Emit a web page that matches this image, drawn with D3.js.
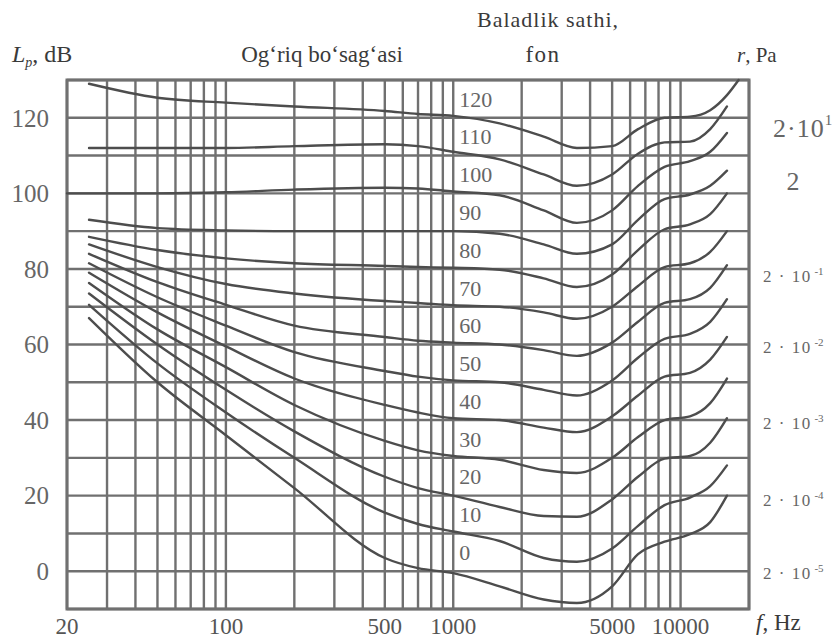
<!DOCTYPE html>
<html>
<head>
<meta charset="utf-8">
<script src="https://d3js.org/d3.v7.min.js"></script>
<style>
  html, body { margin: 0; padding: 0; background: #fff; }
</style>
</head>
<body>
<div id="chart"></div>
<script>
const freqs = [20, 25, 50, 100, 200, 500, 700, 1000, 1600, 2500, 3500, 5000, 6500, 8500, 11000, 13500, 16000, 18000];

// Loudness level of each contour (phon)
const phons = [0, 10, 20, 30, 40, 50, 60, 70, 80, 90, 100, 110, 120];

// Sound pressure level (dB) of each contour at the frequencies above
const contour0   = [null, 67, 50, 36, 22, 3.5, 0.8, -0.5, -4, -7.5, -8.4, -4, 4.5, 7.8, 9.8, 13, 20, null];
const contour10  = [null, 70.5, 55, 42, 30, 15.5, 12.5, 10.5, 8, 3.5, 2.5, 6, 12, 17.5, 19.5, 22.5, 28, null];
const contour20  = [null, 73.5, 60, 48, 37, 25, 22, 20, 17, 14.6, 14.4, 19, 25, 29.8, 30.5, 34, 40.5, null];
const contour30  = [null, 76.3, 64, 54, 44, 34.5, 32, 30.5, 29.5, 26.8, 26, 30, 35.5, 40, 41, 44.5, 51, null];
const contour40  = [null, 79, 68.5, 59.5, 51, 44, 42, 40.5, 40, 38, 36.8, 41, 46.5, 51.5, 52.5, 56, 62, null];
const contour50  = [null, 81.5, 72.5, 65, 58, 53, 51.5, 50.5, 50, 48, 46.5, 50.5, 56.5, 61.5, 62.8, 66, 72, null];
const contour60  = [null, 84, 76.5, 70.5, 65, 62, 61, 60.5, 60, 58.5, 57, 60.5, 66, 71, 72, 75, 81, null];
const contour70  = [null, 86.5, 80.5, 76, 73.5, 71.5, 71, 70.4, 70, 68.5, 66.8, 70, 75.5, 80.5, 81.5, 84.5, 90, null];
const contour80  = [null, 88.5, 85, 82.8, 81.5, 80.8, 80.5, 80.3, 79.8, 77.5, 75.2, 78.5, 85, 90.5, 91.8, 94.5, 100, null];
const contour90  = [null, 93, 90.8, 90.2, 90, 90, 90, 90, 89.3, 86.5, 84, 86.5, 93, 98.5, 99.7, 102, 106, null];
const contour100 = [100, 100, 100, 100.3, 101, 101.5, 101.3, 100.5, 99.5, 95.5, 92.2, 95.5, 102, 107, 108.5, 111, 116, null];
const contour110 = [null, 112, 112, 112, 112.5, 113, 112.5, 111, 109, 105, 102, 105, 110.5, 113.5, 113.7, 117, 123, null];
const contour120 = [null, 129, 125.3, 124, 123, 121.8, 121, 120.5, 118.5, 115, 112, 112.5, 117, 120, 120.3, 122, 126, 130];

const contours = [contour0, contour10, contour20, contour30, contour40, contour50, contour60,
                  contour70, contour80, contour90, contour100, contour110, contour120];

// Axis ticks and labels
const dbTicks = [0, 20, 40, 60, 80, 100, 120];
const freqTicks = [20, 100, 500, 1000, 5000, 10000];
const pressureLevels = [120, 100, 80, 60, 40, 20, 0];
const pressureExp = ['1', null, '-1', '-2', '-3', '-4', '-5'];

// Grid lines
const gridDb = d3.range(-10, 131, 10);
const gridFreqs = [].concat(
    d3.range(20, 100, 10),
    d3.range(100, 1000, 100),
    d3.range(1000, 10000, 1000),
    [10000, 20000]
);

const width = 835, height = 640;
const plot = { left: 67, right: 749, top: 80, bottom: 609 };
const serif = '"Liberation Serif", "Times New Roman", Times, "DejaVu Serif", serif';

const svg = d3.select('#chart')
    .append('svg')
    .attr('width', width)
    .attr('height', height)
    .attr('font-family', serif)
    .style('font-family', serif);

const x = d3.scaleLog()
    .domain([20, 20000])
    .range([plot.left, plot.right]);

const y = d3.scaleLinear()
    .domain([-10, 130])
    .range([plot.bottom, plot.top]);

const gridColor = '#707070';
const curveColor = '#4d4d4d';
const labelColor = '#666';
const titleColor = '#3a3a3a';

// Grid
svg.append('g')
    .selectAll('line')
    .data(gridFreqs)
    .join('line')
    .attr('x1', d => x(d)).attr('x2', d => x(d))
    .attr('y1', plot.top).attr('y2', plot.bottom)
    .attr('stroke', gridColor)
    .attr('stroke-width', 2.4);

svg.append('g')
    .selectAll('line')
    .data(gridDb)
    .join('line')
    .attr('x1', plot.left).attr('x2', plot.right)
    .attr('y1', d => y(d)).attr('y2', d => y(d))
    .attr('stroke', gridColor)
    .attr('stroke-width', 2.4);

svg.append('rect')
    .attr('x', plot.left).attr('y', plot.top)
    .attr('width', plot.right - plot.left)
    .attr('height', plot.bottom - plot.top)
    .attr('fill', 'none')
    .attr('stroke', gridColor)
    .attr('stroke-width', 3);

// Equal loudness contours
const line = d3.line()
    .defined(d => d[1] != null)
    .x(d => x(d[0]))
    .y(d => y(d[1]))
    .curve(d3.curveMonotoneX);

svg.append('g')
    .selectAll('path')
    .data(contours)
    .join('path')
    .attr('d', levels => line(freqs.map((f, i) => [f, levels[i]])))
    .attr('fill', 'none')
    .attr('stroke', curveColor)
    .attr('stroke-width', 2.4)
    .attr('stroke-linecap', 'round');

// Phon labels, just right of the 1000 Hz line
svg.append('g')
    .selectAll('text')
    .data(phons)
    .join('text')
    .attr('x', x(1000) + 6)
    .attr('y', d => y(d + 5))
    .attr('dy', '0.35em')
    .attr('font-size', 22)
    .attr('fill', labelColor)
    .text(d => d);

// Left dB labels
svg.append('g')
    .selectAll('text')
    .data(dbTicks)
    .join('text')
    .attr('x', 49)
    .attr('y', d => y(d))
    .attr('dy', '0.35em')
    .attr('text-anchor', 'end')
    .attr('font-size', 25)
    .attr('fill', labelColor)
    .text(d => d);

// Bottom frequency labels
svg.append('g')
    .selectAll('text')
    .data(freqTicks)
    .join('text')
    .attr('x', d => x(d))
    .attr('y', 634)
    .attr('text-anchor', 'middle')
    .attr('font-size', 23)
    .attr('fill', '#555')
    .text(d => d);

// Right sound pressure labels (printed slightly off the grid lines)
const pressureShift = [10, -12, 7, 3, 3, 4, 2];
const pLabels = svg.append('g')
    .selectAll('text')
    .data(pressureLevels)
    .join('text')
    .attr('y', (d, i) => y(d) + pressureShift[i])
    .attr('dy', '0.35em')
    .attr('fill', labelColor);

pLabels.each(function(d, i) {
    const t = d3.select(this);
    const exp = pressureExp[i];
    if (exp === null) {
        t.attr('x', 793).attr('text-anchor', 'middle').attr('font-size', 26).text('2');
    } else if (exp === '1') {
        t.attr('x', 773).attr('font-size', 26).attr('letter-spacing', 1);
        t.append('tspan').text('2·10');
        t.append('tspan').attr('font-size', 15).attr('dy', -12).text(exp);
    } else {
        t.attr('x', 763).attr('font-size', 17).attr('letter-spacing', 1.5);
        t.append('tspan').text('2 · 10');
        t.append('tspan').attr('font-size', 11).attr('dy', -7).attr('letter-spacing', 0).text(' ' + exp);
    }
});

// Titles
const lp = svg.append('text')
    .attr('x', 12).attr('y', 62)
    .attr('font-size', 24)
    .attr('fill', titleColor);
lp.append('tspan').attr('font-style', 'italic').text('L');
lp.append('tspan').attr('font-style', 'italic').attr('font-size', 14).attr('dy', 5).text('p');
lp.append('tspan').attr('dy', -5).text(', dB');

svg.append('text')
    .attr('x', 322).attr('y', 62)
    .attr('text-anchor', 'middle')
    .attr('font-size', 23)
    .attr('fill', titleColor)
    .text('Og‘riq bo‘sag‘asi');

svg.append('text')
    .attr('x', 548).attr('y', 27)
    .attr('text-anchor', 'middle')
    .attr('font-size', 22)
    .attr('letter-spacing', 1)
    .attr('fill', titleColor)
    .text('Baladlik sathi,');

svg.append('text')
    .attr('x', 543).attr('y', 62)
    .attr('text-anchor', 'middle')
    .attr('font-size', 23)
    .attr('letter-spacing', 1.5)
    .attr('fill', titleColor)
    .text('fon');

const rp = svg.append('text')
    .attr('x', 737).attr('y', 62)
    .attr('font-size', 21)
    .attr('fill', titleColor);
rp.append('tspan').attr('font-style', 'italic').text('r');
rp.append('tspan').text(', Pa');

const fh = svg.append('text')
    .attr('x', 756).attr('y', 630)
    .attr('font-size', 23)
    .attr('fill', titleColor);
fh.append('tspan').attr('font-style', 'italic').text('f');
fh.append('tspan').text(', Hz');
</script>
</body>
</html>
